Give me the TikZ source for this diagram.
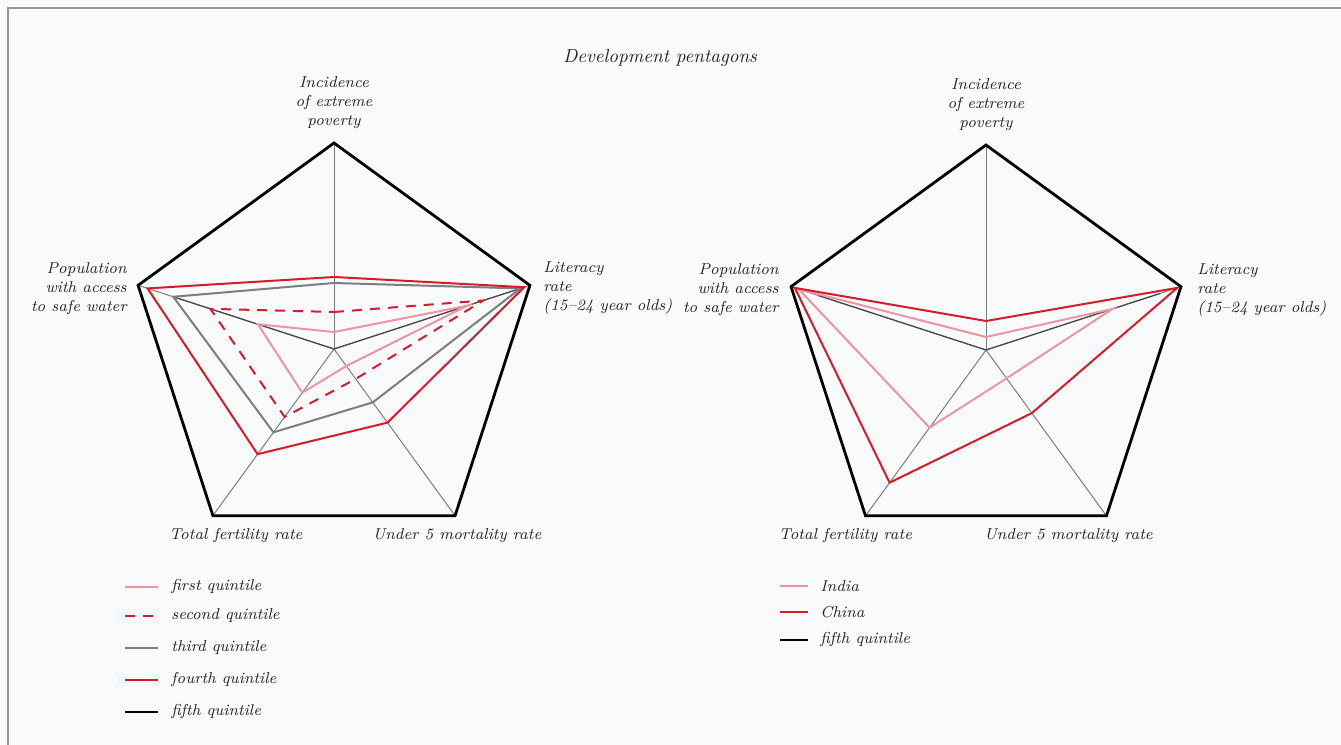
\documentclass[tikz,border=0pt]{standalone}
\usetikzlibrary{positioning}

\definecolor{qred}{RGB}{214,28,42}
\definecolor{qpink}{RGB}{236,150,160}
\definecolor{qgray}{RGB}{125,125,130}
\definecolor{qdark}{RGB}{70,70,75}
\definecolor{axisgray}{RGB}{125,125,125}
\definecolor{txtgray}{RGB}{35,35,40}
\definecolor{bgcol}{RGB}{249,250,252}
\definecolor{framegray}{RGB}{150,150,150}

\tikzset{
  axisline/.style={draw=axisgray, line width=0.5pt},
  rim/.style={draw=black, line width=1.4pt, line join=miter},
  qfirst/.style={draw=qpink, line width=1pt},
  qsecond/.style={draw=qred, line width=1pt, dash pattern=on 5pt off 4pt},
  qthird/.style={draw=qgray, line width=1pt},
  qfourth/.style={draw=qred, line width=1pt},
  qfifth/.style={draw=qdark, line width=0.6pt},
  legfifth/.style={draw=black, line width=1pt},
  lab/.style={font=\fontsize{7.9}{9.5}\selectfont\itshape, text=txtgray, inner sep=0pt},
}

% one data pentagon: style, poverty, literacy, mortality, fertility, water
\newcommand{\pentaline}[6]{\draw[#1] (90:#2) -- (18:#3) -- (-54:#4) -- (234:#5) -- (162:#6) -- cycle;}

\begin{document}
\begin{tikzpicture}[x=0.5pt, y=0.5pt]
  \fill[bgcol] (0,0) rectangle (1341,745);
  \useasboundingbox (0,0) rectangle (1341,745);
  \draw[framegray, line width=0.7pt] (8,0) -- (8,737) -- (1341,737);

  \node[lab, font=\fontsize{9.5}{11}\selectfont\itshape] (title) at (660,687) {Development pentagons};

  % quintiles
  \begin{scope}[shift={(334,396)}]
    \coordinate (c1) at (0,0);
    \foreach \a/\n in {90/pov,18/lit,-54/mor,234/fer,162/wat}{
      \coordinate (\n1) at (\a:206);
      \draw[axisline] (c1) -- (\n1);
    }
    \draw[qfifth] (162:169) -- (c1) -- (18:192);
    \pentaline{qfirst}{17}{140}{21}{54}{80}
    \pentaline{qthird}{66}{196}{66}{103}{169}
    \pentaline{qsecond}{37}{157}{37}{84}{130}
    \pentaline{qfourth}{72}{200}{91}{130}{196}
    \draw[rim] (pov1) -- (lit1) -- (mor1) -- (fer1) -- (wat1) -- cycle;
  \end{scope}

  \node[lab, above=7pt of pov1, align=center] (povlab1) {Incidence\\of extreme\\poverty};
  \node[lab, right=6.5pt of lit1, align=left, yshift=-1.5pt] (litlab1) {Literacy\\rate\\(15--24 year olds)};
  \node[lab, left=5.5pt of wat1, align=right, yshift=-1.5pt] (watlab1) {Population\\with access\\to safe water};
  \node[lab, below=6pt of fer1, xshift=11.5pt] (ferlab1) {Total fertility rate};
  \node[lab, below=6pt of mor1, xshift=1pt] (morlab1) {Under 5 mortality rate};

  % India and China
  \begin{scope}[shift={(986,395)}]
    \coordinate (c2) at (0,0);
    \foreach \a/\n in {90/pov,18/lit,-54/mor,234/fer,162/wat}{
      \coordinate (\n2) at (\a:205);
      \draw[axisline] (c2) -- (\n2);
    }
    \draw[qfifth] (162:176) -- (c2) -- (18:183);
    \pentaline{qfirst}{13}{133}{35}{96}{197}
    \pentaline{qfourth}{29}{201}{78}{164}{201}
    \draw[rim] (pov2) -- (lit2) -- (mor2) -- (fer2) -- (wat2) -- cycle;
  \end{scope}

  \node[lab, above=7pt of pov2, align=center] (povlab2) {Incidence\\of extreme\\poverty};
  \node[lab, right=8pt of lit2, align=left, yshift=-1.5pt] (litlab2) {Literacy\\rate\\(15--24 year olds)};
  \node[lab, left=6pt of wat2, align=right, yshift=-1.5pt] (watlab2) {Population\\with access\\to safe water};
  \node[lab, below=6pt of fer2, xshift=-10pt] (ferlab2) {Total fertility rate};
  \node[lab, below=6pt of mor2, xshift=-19pt] (morlab2) {Under 5 mortality rate};

  % legends
  \foreach \y/\s/\t in {158/qfirst/first quintile, 129/qsecond/second quintile,
      97/qthird/third quintile, 65/qfourth/fourth quintile, 33/legfifth/fifth quintile}{
    \node[lab, anchor=west] (lega\y) at (171,\y) {\t};
    \draw[\s] (125,\y) -- (158,\y);
  }
  \foreach \y/\s/\t in {159/qfirst/India, 133/qfourth/China, 105/legfifth/fifth quintile}{
    \node[lab, anchor=west] (legb\y) at (820,\y) {\t};
    \draw[\s] (780,\y) -- (808,\y);
  }
\end{tikzpicture}
\end{document}
